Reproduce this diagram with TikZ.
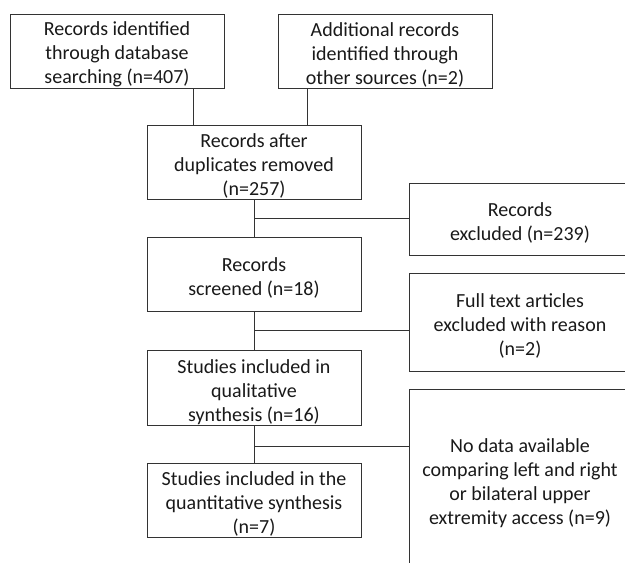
\documentclass[tikz,border=0pt]{standalone}
\usepackage{fontspec}
\setmainfont{Carlito}
\begin{document}
\begin{tikzpicture}[x=1pt,y=-1pt,
  box/.style={draw=black!80,line width=1pt,inner sep=0pt},
  txt/.style={text=black!90,align=center,inner sep=0pt,yshift=-3.5pt,
    font=\fontsize{20}{24}\selectfont},
  link/.style={draw=black!80,line width=1pt}]
\useasboundingbox (0,0) rectangle (625,563);
\clip (0,0) rectangle (625,563);
\node[box,minimum width=214pt,minimum height=74pt,label={[txt]center:Records identified\\through database\\searching (n=407)}] (b1) at (117,51) {};
\node[box,minimum width=214pt,minimum height=74pt,label={[txt]center:Additional records\\identified through\\other sources (n=2)}] (b2) at (385,51) {};
\node[box,minimum width=214pt,minimum height=74pt,label={[txt]center:Records after\\duplicates removed\\(n=257)}] (b3) at (254,162) {};
\node[box,minimum width=214pt,minimum height=74pt,label={[txt]center:Records\\screened (n=18)}] (b4) at (254,274) {};
\node[box,minimum width=214pt,minimum height=75pt,label={[txt,yshift=-1pt]center:Studies included in\\qualitative\\synthesis (n=16)}] (b5) at (254,387.5) {};
\node[box,minimum width=214pt,minimum height=74pt,label={[txt]center:Studies included in the\\quantitative synthesis\\(n=7)}] (b6) at (254,500) {};
\node[box,minimum width=222pt,minimum height=72pt,label={[txt]center:Records\\excluded (n=239)}] (r1) at (520,219) {};
\node[box,minimum width=222pt,minimum height=98pt,label={[txt]center:Full text articles\\excluded with reason\\(n=2)}] (r2) at (520,322) {};
\node[box,minimum width=222pt,minimum height=186pt,label={[txt,yshift=2.5pt]center:No data available\\comparing left and right\\or bilateral upper\\extremity access (n=9)}] (r3) at (520,482) {};
\coordinate (j1) at (254,218);
\coordinate (j2) at (254,330);
\coordinate (j3) at (254,446);
\draw[link] (b1.south -| 193,0) -- (b3.north -| 193,0);
\draw[link] (b2.south -| 307,0) -- (b3.north -| 307,0);
\draw[link] (b3) -- (b4);
\draw[link] (j1) -- (j1 -| r1.west);
\draw[link] (b4) -- (b5);
\draw[link] (j2) -- (j2 -| r2.west);
\draw[link] (b5) -- (b6);
\draw[link] (j3) -- (j3 -| r3.west);
\end{tikzpicture}
\end{document}
